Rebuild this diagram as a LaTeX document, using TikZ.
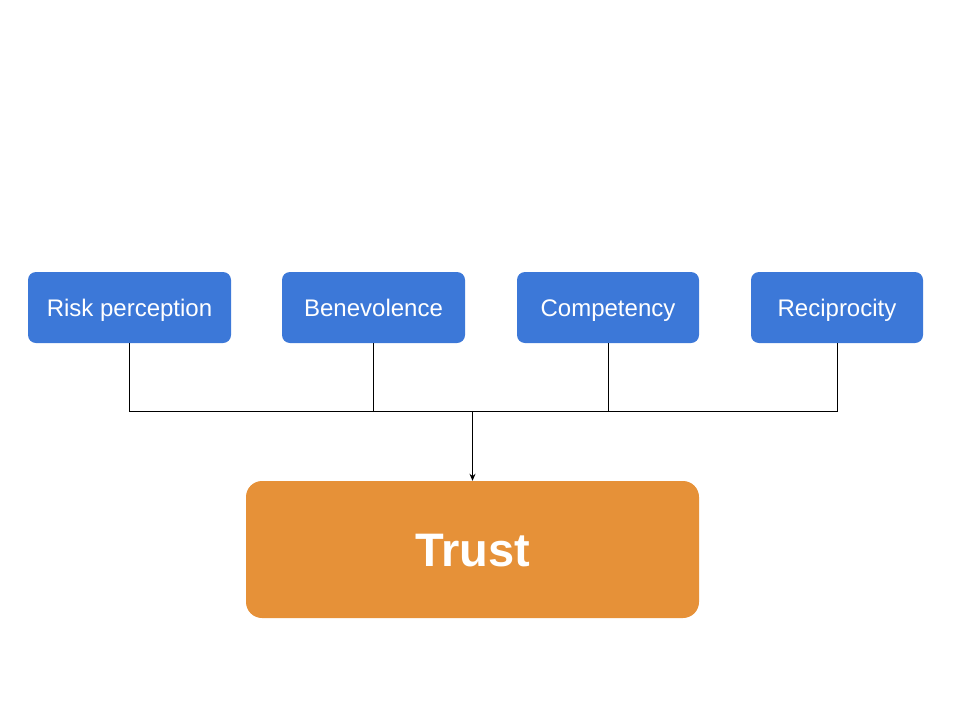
\documentclass[tikz,border=0pt]{standalone}
\usepackage{fontspec}
\setmainfont{Liberation Sans}
\usetikzlibrary{arrows.meta}
\definecolor{boxblue}{HTML}{3C78D8}
\definecolor{boxorange}{HTML}{E69138}
\begin{document}
\begin{tikzpicture}[x=1pt,y=-1pt,
  factor/.style={fill=boxblue, rounded corners=8pt, text=white, font=\fontsize{24}{28}\selectfont, minimum height=71pt, inner sep=0pt, text height=17.2pt, text depth=0pt, anchor=center},
  target/.style={fill=boxorange, rounded corners=16pt, text=white, font=\fontsize{47}{54}\selectfont\bfseries, minimum width=453pt, minimum height=137pt, inner sep=0pt, text height=33.7pt, text depth=0pt},
  conn/.style={draw=black, line width=0.9pt}
]
\useasboundingbox (0,0) rectangle (960,720);
\node[factor, minimum width=203pt] (risk) at (129.5,307.5) {Risk perception};
\node[factor, minimum width=183pt] (ben) at (373.5,307.5) {Benevolence};
\node[factor, minimum width=182pt] (comp) at (608,307.5) {Competency};
\node[factor, minimum width=172pt] (rec) at (837,307.5) {Reciprocity};
\node[target] (trust) at (472.5,549.5) {Trust};
\coordinate (j) at (472.5,411);
\draw[conn] (risk.south) |- (j);
\draw[conn] (ben.south) |- (j);
\draw[conn] (comp.south) |- (j);
\draw[conn] (rec.south) |- (j);
\draw[conn, -{Stealth[length=7pt,width=6pt]}] (j) -- (trust.north);
\end{tikzpicture}
\end{document}
